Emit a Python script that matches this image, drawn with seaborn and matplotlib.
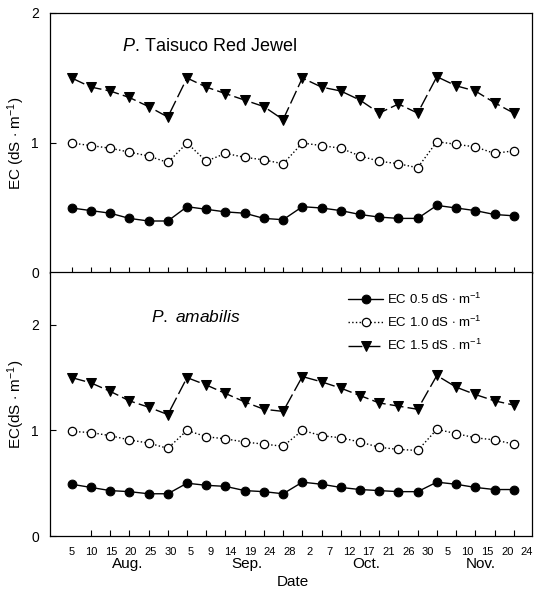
import numpy as np
import pandas as pd
import matplotlib
matplotlib.use("Agg")
import matplotlib.pyplot as plt
import seaborn as sns

sns.set_theme(style="white")
plt.rcParams['font.family'] = ['Liberation Sans', 'DejaVu Sans']
plt.rcParams['mathtext.fontset'] = 'custom'
plt.rcParams['mathtext.rm'] = 'Liberation Sans'
plt.rcParams['mathtext.it'] = 'Liberation Sans:italic'
for k in ['text.color', 'axes.labelcolor', 'xtick.color', 'ytick.color', 'axes.edgecolor']:
    plt.rcParams[k] = 'black'

# ---- data ----
day_labels = ["5", "10", "15", "20", "25", "30", "5", "9", "14", "19", "24", "28",
              "2", "7", "12", "17", "21", "26", "30", "5", "10", "15", "20", "24"]
months = ["Aug.", "Sep.", "Oct.", "Nov."]
series_names = ["EC 0.5 dS $\\cdot$ m$^{-1}$", "EC 1.0 dS $\\cdot$ m$^{-1}$", "EC 1.5 dS . m$^{-1}$"]

top_ec05 = [0.50, 0.48, 0.46, 0.42, 0.40, 0.40, 0.51, 0.49, 0.47, 0.46, 0.42, 0.41,
            0.51, 0.50, 0.48, 0.45, 0.43, 0.42, 0.42, 0.52, 0.50, 0.48, 0.45, 0.44]
top_ec10 = [1.00, 0.98, 0.96, 0.93, 0.90, 0.85, 1.00, 0.86, 0.92, 0.89, 0.87, 0.84,
            1.00, 0.98, 0.96, 0.90, 0.86, 0.84, 0.81, 1.01, 0.99, 0.97, 0.92, 0.94]
top_ec15 = [1.50, 1.43, 1.40, 1.35, 1.28, 1.20, 1.50, 1.43, 1.38, 1.33, 1.28, 1.18,
            1.50, 1.43, 1.40, 1.33, 1.23, 1.30, 1.23, 1.51, 1.44, 1.40, 1.31, 1.23]

bot_ec05 = [0.49, 0.46, 0.43, 0.42, 0.40, 0.40, 0.50, 0.48, 0.47, 0.43, 0.42, 0.40,
            0.51, 0.49, 0.46, 0.44, 0.43, 0.42, 0.42, 0.51, 0.49, 0.46, 0.44, 0.44]
bot_ec10 = [0.99, 0.98, 0.95, 0.91, 0.88, 0.83, 1.00, 0.94, 0.92, 0.89, 0.87, 0.85,
            1.00, 0.95, 0.93, 0.89, 0.84, 0.82, 0.81, 1.01, 0.97, 0.93, 0.91, 0.87]
bot_ec15 = [1.50, 1.45, 1.37, 1.28, 1.22, 1.15, 1.50, 1.43, 1.35, 1.27, 1.20, 1.18,
            1.51, 1.46, 1.40, 1.33, 1.26, 1.23, 1.20, 1.52, 1.41, 1.34, 1.28, 1.24]

panels = [
    dict(vals=[top_ec05, top_ec10, top_ec15], ylim=2.0,
         title=r"$\it{P}$. Taisuco Red Jewel", ylabel="EC (dS $\\cdot$ m$^{-1}$)"),
    dict(vals=[bot_ec05, bot_ec10, bot_ec15], ylim=2.5,
         title=r"$\it{P.\ amabilis}$", ylabel="EC(dS $\\cdot$ m$^{-1}$)"),
]

styles = [
    dict(marker="o", markersize=6.3, markerfacecolor="black", markeredgecolor="black",
         linestyle="-"),
    dict(marker="o", markersize=6.0, markerfacecolor="white", markeredgecolor="black",
         linestyle=":", markeredgewidth=0.9),
    dict(marker="v", markersize=6.5, markerfacecolor="black", markeredgecolor="black",
         linestyle=(0, (10, 3))),
]

W, H = 535, 591
fig = plt.figure(figsize=(W / 100, H / 100), dpi=100)

def frac(l, t, r, b):
    return [l / W, 1 - b / H, (r - l) / W, (b - t) / H]

ax_top = fig.add_axes(frac(50, 13, 532, 273))
ax_bot = fig.add_axes(frac(50, 272, 532, 536))
axes = [ax_top, ax_bot]

idx = np.arange(len(day_labels))
for ax, p in zip(axes, panels):
    for name, v, st in zip(series_names, p["vals"], styles):
        df = pd.DataFrame({"i": idx, "EC": v})
        sns.lineplot(data=df, x="i", y="EC", ax=ax, color="black", linewidth=1.0,
                     label=name, legend=False, **st)
    ax.set_xlim(-1.13, 23.95)
    ax.set_ylim(0, p["ylim"])
    ax.set_yticks([0, 1, 2])
    ax.set_yticklabels(["0", "1", "2"], fontsize=10)
    ax.tick_params(axis="y", direction="in", length=4, width=0.8, pad=8, left=True)
    ax.set_xticks(idx, minor=True)
    ax.tick_params(axis="x", which="minor", direction="in", length=4, width=0.8, bottom=True)
    ax.set_ylabel(p["ylabel"], fontsize=11)
    ax.set_xlabel("")
    ax.yaxis.set_label_coords(-0.047, 0.5)
    for s in ax.spines.values():
        s.set_color("black")
        s.set_linewidth(0.9)

ax_top.set_xticks([])
ax_top.text(0.15, 0.873, panels[0]["title"], transform=ax_top.transAxes, fontsize=13,
            ha="left", va="center")
ax_bot.text(0.21, 0.83, panels[1]["title"], transform=ax_bot.transAxes, fontsize=12.5,
            ha="left", va="center")

ax_bot.set_xticks(idx * 1.03)
ax_bot.set_xticklabels(day_labels, fontsize=8)
ax_bot.tick_params(axis="x", which="major", length=0, pad=8)

month_pos = [2.9, 9.1, 15.3, 21.3]
for m, xp in zip(months, month_pos):
    ax_bot.text(xp, -0.105, m, transform=ax_bot.get_xaxis_transform(), fontsize=11,
                ha="center", va="center")
fig.text(293 / W, 1 - 582 / H, "Date", fontsize=11, ha="center", va="center")

handles, labels = ax_bot.get_legend_handles_labels()
leg = ax_bot.legend(handles, labels, loc="upper left", bbox_to_anchor=(0.6, 0.96),
                    frameon=False, fontsize=9.5, handlelength=2.6, handletextpad=0.3,
                    labelspacing=0.6, borderaxespad=0.3)

fig.savefig("out.png", dpi=100)
